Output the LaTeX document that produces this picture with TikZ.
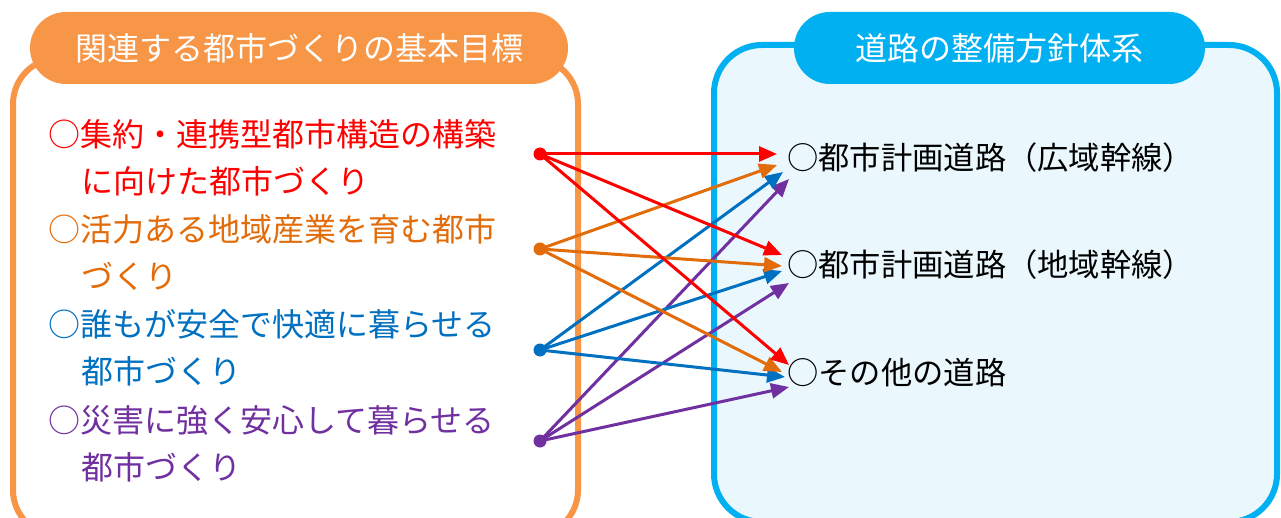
\documentclass[tikz,border=0pt]{standalone}
\usepackage{fontspec}
\setmainfont{Noto Sans CJK JP}
\usetikzlibrary{arrows.meta}
\definecolor{boxorange}{HTML}{F79646}
\definecolor{boxblue}{HTML}{00B0F0}
\definecolor{boxfill}{HTML}{EAF8FE}
\definecolor{cred}{HTML}{FF0000}
\definecolor{corange}{HTML}{E36C0A}
\definecolor{cblue}{HTML}{0070C0}
\definecolor{cpurple}{HTML}{7030A0}
\tikzset{
  leftline/.style={anchor=west, inner sep=0pt, font=\fontsize{32}{36}\selectfont},
  rightline/.style={anchor=west, inner sep=0pt, font=\fontsize{31.3}{36}\selectfont, text=black},
  header/.style={text=white, inner sep=0pt, font=\fontsize{32}{36}\selectfont},
  dot/.style={circle, fill=#1, inner sep=0pt, minimum size=13pt},
  link/.style={draw=#1, line width=3pt, -{Triangle[length=18pt,width=15pt]}},
}
\begin{document}
\begin{tikzpicture}[x=1pt,y=-1pt]
\useasboundingbox (0,0) rectangle (1281,518);
% frames
\draw[boxorange, line width=6pt, fill=white, rounded corners=46pt] (13,58) rectangle (578,536);
\draw[boxblue, line width=6pt, fill=boxfill, rounded corners=48pt] (714,45) rectangle (1277,522);
% header pills
\fill[boxorange, rounded corners=36pt] (30,12) rectangle (568,84);
\node[header] (hl) at (299,48) {関連する都市づくりの基本目標};
\fill[boxblue, rounded corners=36pt] (794,12) rectangle (1205,84);
\node[header] (hr) at (999,48) {道路の整備方針体系};
% left texts
\node[leftline, text=cred] (g1a) at (48,134) {○集約・連携型都市構造の構築};
\node[leftline, text=cred] (g1b) at (81,181) {に向けた都市づくり};
\node[leftline, text=corange] (g2a) at (48,229) {○活力ある地域産業を育む都市};
\node[leftline, text=corange] (g2b) at (81,276) {づくり};
\node[leftline, text=cblue] (g3a) at (48,324) {○誰もが安全で快適に暮らせる};
\node[leftline, text=cblue] (g3b) at (81,371) {都市づくり};
\node[leftline, text=cpurple] (g4a) at (48,420) {○災害に強く安心して暮らせる};
\node[leftline, text=cpurple] (g4b) at (81,467) {都市づくり};
% right texts
\node[rightline] (r1) at (787,158) {○都市計画道路（広域幹線）};
\node[rightline] (r2) at (787,265) {○都市計画道路（地域幹線）};
\node[rightline] (r3) at (787,373) {○その他の道路};
% dots
\node[dot=cred] (d1) at (540,154) {};
\node[dot=corange] (d2) at (540,249) {};
\node[dot=cblue] (d3) at (540,350) {};
\node[dot=cpurple] (d4) at (540,441) {};
% arrow tips
\coordinate (t1r) at (777,154);
\coordinate (t1o) at (777,165);
\coordinate (t1b) at (783,172);
\coordinate (t1p) at (789,179);
\coordinate (t2r) at (782,255);
\coordinate (t2o) at (782,266);
\coordinate (t2b) at (782,271);
\coordinate (t2p) at (789,283);
\coordinate (t3r) at (789,365);
\coordinate (t3o) at (782,372);
\coordinate (t3b) at (785,377);
\coordinate (t3p) at (789,387);
% links
\draw[link=cpurple] (d4.center) -- (t1p);
\draw[link=cpurple] (d4.center) -- (t2p);
\draw[link=cpurple] (d4.center) -- (t3p);
\draw[link=cblue] (d3.center) -- (t1b);
\draw[link=cblue] (d3.center) -- (t2b);
\draw[link=cblue] (d3.center) -- (t3b);
\draw[link=corange] (d2.center) -- (t1o);
\draw[link=corange] (d2.center) -- (t2o);
\draw[link=corange] (d2.center) -- (t3o);
\draw[link=cred] (d1.center) -- (t1r);
\draw[link=cred] (d1.center) -- (t2r);
\draw[link=cred] (d1.center) -- (t3r);
\end{tikzpicture}
\end{document}
